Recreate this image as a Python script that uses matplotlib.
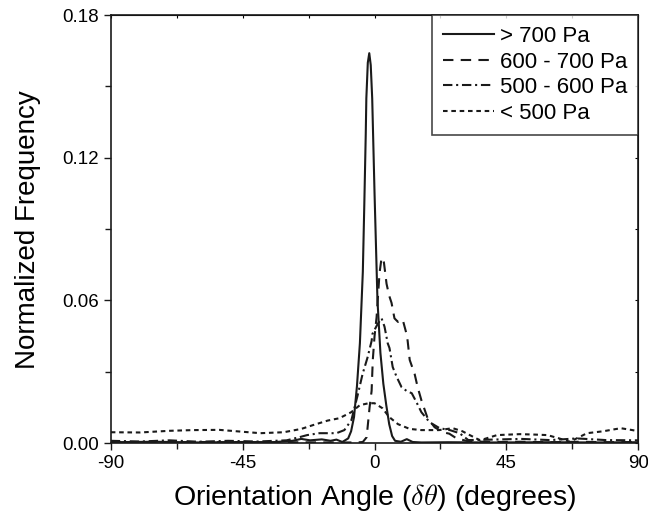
import matplotlib
matplotlib.use("Agg")
from matplotlib import pyplot as plt
from matplotlib.ticker import MultipleLocator

plt.rcParams['font.family'] = ['Liberation Sans', 'DejaVu Sans']
plt.rcParams['mathtext.fontset'] = 'cm'
plt.rcParams['axes.unicode_minus'] = False

# > 700 Pa (solid)
x_700 = [-90, -75, -60, -45, -35, -28, -25, -22, -18, -15, -13, -11, -9, -8, -7, -6, -5, -4, -3.5,
         -3, -2.8, -2.3, -1.8, -1.3, -0.8, -0.3, 0, 1, 2, 3, 4, 5, 6, 7, 9, 11, 13, 16, 25, 40, 60,
         75, 90]
y_700 = [0.0004, 0.0006, 0.0003, 0.0005, 0.0004, 0.001, 0.0018, 0.0012, 0.0016, 0.001, 0.0015,
         0.0005, 0.002, 0.005, 0.011, 0.024, 0.042, 0.072, 0.100, 0.130, 0.145, 0.160, 0.164,
         0.159, 0.145, 0.120, 0.105, 0.060, 0.038, 0.025, 0.016, 0.008, 0.003, 0.001, 0.0006,
         0.0017, 0.0005, 0.0003, 0.0004, 0.0003, 0.0004, 0.0003, 0.0004]

# 600 - 700 Pa (dashed)
x_600 = [-90, -75, -60, -45, -30, -15, -6, -4, -2.7, -1.7, -1, -0.6, 0, 0.7, 1.7, 2.4, 3.2, 4.1,
         5, 5.8, 6.8, 8, 9.6, 10.9, 11.3, 12, 13.7, 14.7, 16, 18.1, 20.5, 23.3, 25.5, 28, 32, 40,
         50, 60, 70, 80, 90]
y_600 = [0.0004, 0.0003, 0.0005, 0.0003, 0.0004, 0.0003, 0.0003, 0.0005, 0.0025, 0.015, 0.022,
         0.035, 0.045, 0.053, 0.0715, 0.078, 0.076, 0.067, 0.062, 0.059, 0.0525, 0.051, 0.052,
         0.046, 0.043, 0.035, 0.029, 0.0236, 0.018, 0.0105, 0.0067, 0.0046, 0.004, 0.002, 0.0008,
         0.0005, 0.0006, 0.0004, 0.0006, 0.0004, 0.0005]

# 500 - 600 Pa (dash-dot)
x_500 = [-90, -80, -70, -60, -50, -40, -30, -25.7, -23, -18.8, -13, -10.3, -7.9, -5.8, -4.1,
         -2.4, -1, -0.7, 1, 2.4, 3.4, 4.5, 5.1, 6.2, 7.5, 9.2, 10.9, 12.7, 14.4, 16, 18.8, 22.2,
         25.7, 29, 32, 40, 50, 60, 69, 79, 90]
y_500 = [0.001, 0.0007, 0.0012, 0.0006, 0.001, 0.0007, 0.0012, 0.0025, 0.0034, 0.0042, 0.0042,
         0.0055, 0.0097, 0.020, 0.029, 0.036, 0.043, 0.046, 0.050, 0.0525, 0.049, 0.042, 0.040,
         0.032, 0.028, 0.0236, 0.022, 0.021, 0.017, 0.013, 0.0088, 0.0063, 0.0055, 0.0042,
         0.0013, 0.0015, 0.0018, 0.0013, 0.002, 0.0013, 0.0012]

# < 500 Pa (dotted)
x_low = [-90, -80, -70, -62, -53, -45, -39, -31, -25, -21, -16, -12, -8, -5, -2, 0, 2.7, 5, 8,
         12, 16, 22, 26.7, 30, 32.5, 36, 41.8, 49.6, 55, 59, 63, 66.7, 72.5, 78, 84, 88, 90]
y_low = [0.0046, 0.0045, 0.0052, 0.0055, 0.0056, 0.0048, 0.0042, 0.0046, 0.006, 0.0076, 0.0095,
         0.0105, 0.013, 0.016, 0.0168, 0.0168, 0.0147, 0.011, 0.008, 0.006, 0.0055, 0.0055,
         0.0063, 0.005, 0.0034, 0.0012, 0.0034, 0.0038, 0.0036, 0.0034, 0.002, 0.0006, 0.0042,
         0.005, 0.0063, 0.0055, 0.005]

labels = ['> 700 Pa', '600 - 700 Pa', '500 - 600 Pa', '< 500 Pa']

fig = plt.figure(figsize=(6.48, 5.22), dpi=100)
ax = fig.add_axes([0.171, 0.151, 0.814, 0.820])

lw = 1.5
ax.plot(x_700, y_700, color='#1a1a1a', lw=lw, label=labels[0])
ax.plot(x_600, y_600, color='#1a1a1a', lw=lw, dashes=(5, 3.5), label=labels[1])
ax.plot(x_500, y_500, color='#1a1a1a', lw=lw, dashes=(4.5, 1.8, 1, 1.8), label=labels[2])
ax.plot(x_low, y_low, color='#1a1a1a', lw=lw, dashes=(2.2, 1.8), label=labels[3])

ax.set_xlim(-90, 90)
ax.set_ylim(0, 0.18)
ax.xaxis.set_major_locator(MultipleLocator(45))
ax.xaxis.set_minor_locator(MultipleLocator(22.5))
ax.yaxis.set_major_locator(MultipleLocator(0.06))
ax.yaxis.set_minor_locator(MultipleLocator(0.03))
ax.set_yticks([0, 0.06, 0.12, 0.18])
ax.set_yticklabels(['0.00', '0.06', '0.12', '0.18'])

ax.tick_params(which='both', direction='out', width=1, labelsize=13.5, color='#1a1a1a')
ax.tick_params(which='major', length=5)
ax.tick_params(which='minor', length=4)
for s in ax.spines.values():
    s.set_linewidth(1.2)
    s.set_color('#1a1a1a')

# tiny inward ticks on top and right
top = ax.secondary_xaxis('top')
top.xaxis.set_major_locator(MultipleLocator(22.5))
top.tick_params(direction='in', length=2, labeltop=False)
right = ax.secondary_yaxis('right')
right.yaxis.set_major_locator(MultipleLocator(0.03))
right.tick_params(direction='in', length=2, labelright=False)

ax.set_xlabel(r'Orientation Angle ($\delta\theta$) (degrees)', fontsize=20.5, labelpad=7)
ax.set_ylabel('Normalized Frequency', fontsize=20, labelpad=15)

leg = ax.legend(loc='upper right', fontsize=16, frameon=True, fancybox=False,
                borderaxespad=0, handlelength=2.3, handletextpad=0.25, labelspacing=0.2,
                borderpad=0.5)
leg.get_frame().set_edgecolor('#1a1a1a')
leg.get_frame().set_linewidth(1.2)

fig.savefig('out.png', dpi=100)
